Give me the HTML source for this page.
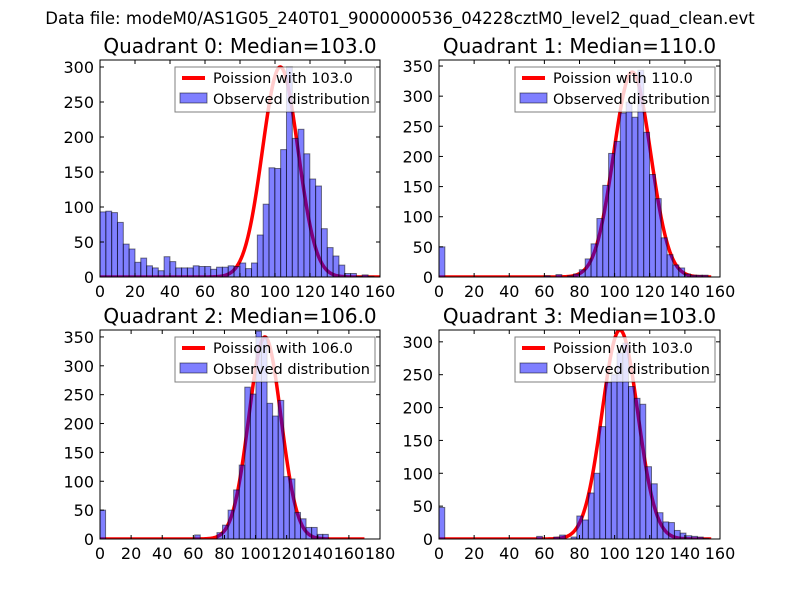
<!DOCTYPE html>
<html><head><meta charset="utf-8">
<style>
html,body{margin:0;padding:0;background:#fff;}
svg{display:block;font-family:"DejaVu Sans","Liberation Sans",sans-serif;}
</style></head>
<body>
<svg id="fig" width="800" height="600" viewBox="0 0 800 600" xmlns="http://www.w3.org/2000/svg">
<rect width="800" height="600" fill="#fff"/>
<text x="400" y="24" text-anchor="middle" font-size="16.5">Data file: modeM0/AS1G05_240T01_9000000536_04228cztM0_level2_quad_clean.evt</text>
</svg>
<script>
// ---- data ----
const quadrantNames = ["Quadrant 0","Quadrant 1","Quadrant 2","Quadrant 3"];
const medians = [103.0, 110.0, 106.0, 103.0];
const binWidths = [3.33, 3.33, 3.58, 3.27];
const q0Counts = [93,94,92,78,47,40,21,27,16,13,9,29,22,13,13,13,16,15,15,11,14,14,16,15,20,12,20,60,104,156,155,182,300,198,211,176,140,130,69,42,30,17,5,5,1,3,1];
const q1Counts = [50,0,0,0,0,0,0,0,0,0,0,0,0,0,0,0,0,0,2,0,4,0,2,5,12,30,55,97,152,205,225,272,290,265,343,240,170,130,65,37,20,15,5,3,3,3];
const q2Counts = [50,0,0,0,0,0,0,0,0,0,0,0,0,0,0,0,0,7,0,0,0,11,24,50,85,128,263,251,360,350,235,213,240,108,104,46,35,20,20,8,8];
const q3Counts = [48,0,0,0,0,0,0,0,0,0,0,0,0,0,0,0,0,4,0,0,3,6,0,3,35,29,70,100,171,238,250,283,298,232,214,205,110,84,40,26,25,13,9,5,4,3,1];
const curvePeaks = [300, 340, 350, 318];
const curveEnds = [160, 155, 170, 155];
const xMaxes = [160, 160, 180, 160];
const yMaxes = [310, 360, 362, 318];
const xTickLabels = [[0,20,40,60,80,100,120,140,160],[0,20,40,60,80,100,120,140,160],[0,20,40,60,80,100,120,140,160,180],[0,20,40,60,80,100,120,140,160]];
const yTickLabels = [[0,50,100,150,200,250,300],[0,50,100,150,200,250,300,350],[0,50,100,150,200,250,300,350],[0,50,100,150,200,250,300]];
const allCounts = [q0Counts,q1Counts,q2Counts,q3Counts];

const NS="http://www.w3.org/2000/svg";
const svg=document.getElementById('fig');
function mk(tag,attrs,parent){const e=document.createElementNS(NS,tag);for(const k in attrs)e.setAttribute(k,attrs[k]);(parent||svg).appendChild(e);return e;}
const boxes=[{x:100,y:60,w:280,h:217},{x:439,y:60,w:281,h:217},{x:100,y:330,w:280,h:209},{x:439,y:330,w:281,h:209}];

for(let q=0;q<4;q++){
  const b=boxes[q];
  const g=mk('g',{});
  
  
  const xs=v=>b.x+v/xMaxes[q]*b.w;
  const ys=v=>b.y+b.h-v/yMaxes[q]*b.h;
  const cp=mk('clipPath',{id:'clip'+q},g);
  mk('rect',{x:b.x,y:b.y,width:b.w,height:b.h},cp);
  const m=medians[q];let d='';
  for(let v=0;v<=curveEnds[q];v+=0.5){
    const y=curvePeaks[q]*Math.exp(-(v-m)*(v-m)/(2*m));
    d+=(v===0?'M':'L')+xs(v).toFixed(2)+','+ys(y).toFixed(2);
  }
  const line=mk('path',{d:d,fill:'none',stroke:'#ff0000','stroke-width':3.5,'clip-path':'url(#clip'+q+')'},g);
  
  
  const counts=allCounts[q];const w=binWidths[q];
  counts.forEach((c,i)=>{
    if(c<=0)return;
    const r=mk('rect',{x:xs(i*w),y:ys(c),width:xs(w)-xs(0),height:ys(0)-ys(c),fill:'#0000ff','fill-opacity':0.5,stroke:'#000','stroke-opacity':0.5,'stroke-width':1,'clip-path':'url(#clip'+q+')'},g);
    
    
  });
  mk('rect',{x:b.x,y:b.y,width:b.w,height:b.h,fill:'none',stroke:'#000','stroke-width':1},g);
  xTickLabels[q].forEach(t=>{
    const x=xs(t);
    mk('line',{x1:x,x2:x,y1:b.y+b.h,y2:b.y+b.h-4,stroke:'#000'},g);
    mk('line',{x1:x,x2:x,y1:b.y,y2:b.y+4,stroke:'#000'},g);
    const tx=mk('text',{x:x,y:b.y+b.h+20,'text-anchor':'middle','font-size':16},g);
    tx.textContent=t;
    
    
  });
  yTickLabels[q].forEach(t=>{
    const y=ys(t);
    mk('line',{x1:b.x,x2:b.x+4,y1:y,y2:y,stroke:'#000'},g);
    mk('line',{x1:b.x+b.w,x2:b.x+b.w-4,y1:y,y2:y,stroke:'#000'},g);
    const tx=mk('text',{x:b.x-6,y:y+6,'text-anchor':'end','font-size':16},g);
    tx.textContent=t;
    
    
  });
  const tt=mk('text',{x:b.x+b.w/2,y:b.y-7,'text-anchor':'middle','font-size':20},g);
  tt.textContent=quadrantNames[q]+': Median='+medians[q].toFixed(1);
  
  
  const lx=b.x+b.w-205, ly=b.y+7;
  const lg=mk('g',{},g);
  
  
  mk('rect',{x:lx,y:ly,width:200,height:45,fill:'#fff','fill-opacity':0.8,stroke:'#000','stroke-opacity':0.5},lg);
  mk('line',{x1:lx+7,x2:lx+30,y1:ly+11,y2:ly+11,stroke:'#ff0000','stroke-width':4},lg);
  mk('rect',{x:lx+5,y:ly+26,width:27,height:10,fill:'#0000ff','fill-opacity':0.5,stroke:'#000','stroke-opacity':0.5},lg);
  const t1=mk('text',{x:lx+38,y:ly+16,'font-size':14.5},lg);
  t1.textContent='Poission with '+medians[q].toFixed(1);
  
  
  const t2=mk('text',{x:lx+38,y:ly+37,'font-size':14.5},lg);
  t2.textContent='Observed distribution';
  
  
}
</script>
</body></html>
